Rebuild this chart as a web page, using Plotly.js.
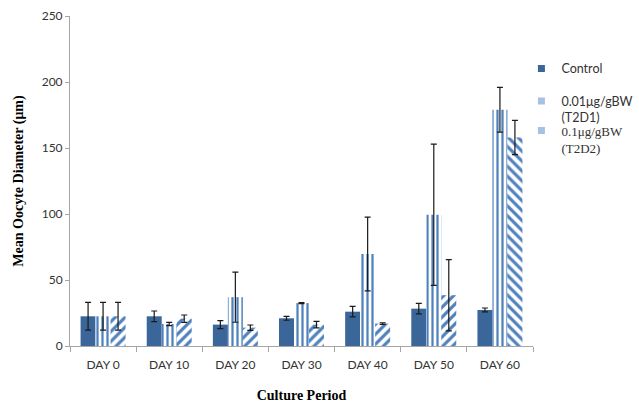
<!DOCTYPE html>
<html><head><meta charset="utf-8">
<script src="https://cdn.plot.ly/plotly-3.0.1.min.js"></script>
<style>body{margin:0;background:#fff}#c{width:639px;height:403px}</style>
</head><body><div id="c"></div>
<script>
const categories = ["DAY 0","DAY 10","DAY 20","DAY 30","DAY 40","DAY 50","DAY 60"];
const controlVals = [22.5, 22.5, 16.2, 21, 26, 28.3, 27.3];
const controlErr  = [10.5, 4, 3, 1.5, 4, 4, 1.5];
const t2d1Vals = [22.5, 16.7, 37, 32.5, 69.7, 99.5, 179];
const t2d1Err  = [10.5, 1.2, 19, 0.4, 28, 53.5, 17];
const t2d2Vals = [22.5, 20.7, 13.9, 16.2, 17, 38.5, 158];
const t2d2Err  = [10.5, 2.8, 2, 2.5, 0.6, 27, 13];
const seriesNames = ["Control", "0.01μg/gBW<br>(T2D1)", "0.1μg/gBW<br>(T2D2)"];

const errStyle = {type:'data', visible:true, color:'#1a1a1a', thickness:1.2, width:3};
const legendColors = ['#3B6699', '#A7C1E0', '#A7C1E0'];
const legendIds = ['legend', 'legend2', 'legend3'];
const traces = [
  {type:'bar', name:seriesNames[0], x:categories, y:controlVals, showlegend:false,
   error_y:Object.assign({array:controlErr}, errStyle),
   marker:{color:'#3B6699'}},
  {type:'bar', name:seriesNames[1], x:categories, y:t2d1Vals, showlegend:false,
   error_y:Object.assign({array:t2d1Err}, errStyle),
   marker:{color:'#ffffff', pattern:{shape:'|', fgcolor:'#4F81BD', bgcolor:'#ffffff', size:5, solidity:0.45}}},
  {type:'bar', name:seriesNames[2], x:categories, y:t2d2Vals, showlegend:false,
   error_y:Object.assign({array:t2d2Err}, errStyle),
   marker:{color:'#ffffff', pattern:{shape:['/','/','/','/','/','/','\\'], fgcolor:'#4F81BD', bgcolor:'#ffffff', size:7, solidity:0.45}}}
];
// legend-only entries with small square keys
seriesNames.forEach((n, i) => {
  traces.push({type:'scatter', mode:'markers', name:n, x:[null], y:[null],
    marker:{symbol:'square', size:7, color:legendColors[i]},
    legend: legendIds[i], hoverinfo:'skip'});
});
const legBase = {x:0.975, xanchor:'left', yanchor:'top', valign:'top', itemwidth:30, bgcolor:'rgba(0,0,0,0)'};
const layout = {
  width:639, height:403,
  margin:{l:70, r:106, t:16, b:57, autoexpand:false},
  paper_bgcolor:'#fff', plot_bgcolor:'#fff',
  barmode:'group', bargap:0.32, bargroupgap:0,
  font:{family:'Lato, "Open Sans", sans-serif', size:11, color:'#333'},
  xaxis:{showline:true, linecolor:'#a6a6a6', linewidth:1, ticks:'outside', tickson:'boundaries', ticklen:5, tickcolor:'#a6a6a6',
    tickfont:{size:12, color:'#333'}, ticklabelstandoff:8, automargin:false,
    title:{text:'<b>Culture Period</b>', font:{family:'"Liberation Serif", serif', size:14, color:'#000'}, standoff:18}},
  yaxis:{range:[0,250], dtick:50, showgrid:false, zeroline:false, showline:true, linecolor:'#a6a6a6', linewidth:1, ticks:'outside', ticklen:4, tickcolor:'#a6a6a6',
    tickfont:{size:12, color:'#333'}, automargin:false,
    title:{text:'<b>Mean Oocyte Diameter (μm)</b>', font:{family:'"Liberation Serif", serif', size:14, color:'#000'}, standoff:14}},
  legend: Object.assign({}, legBase, {y:0.885, font:{size:12.5, color:'#333'}}),
  legend2: Object.assign({}, legBase, {y:0.787, font:{size:12.5, color:'#333'}}),
  legend3: Object.assign({}, legBase, {y:0.698, font:{family:'"Liberation Serif", serif', size:13, color:'#333'}}),
  showlegend:true
};
Plotly.newPlot('c', traces, layout, {displayModeBar:false, staticPlot:true});
</script></body></html>
